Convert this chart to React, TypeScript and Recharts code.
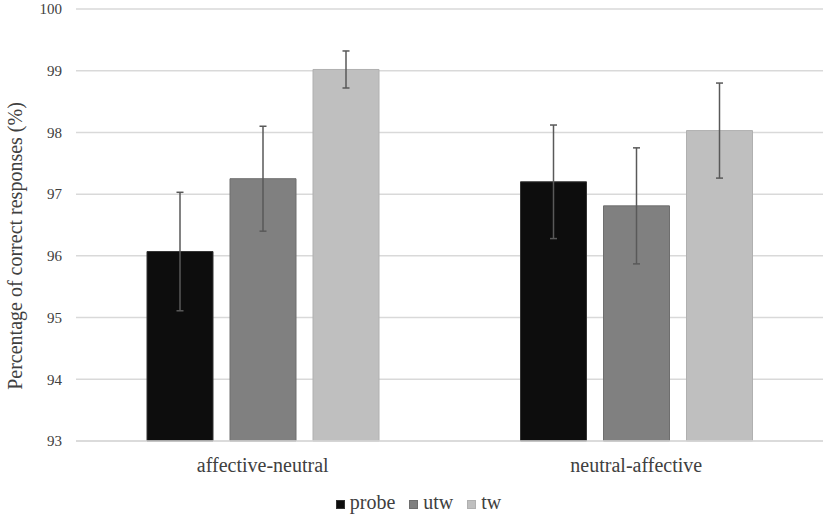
import React from "react";
import {
  BarChart, Bar, XAxis, YAxis, CartesianGrid, Legend, ErrorBar,
} from "recharts";

const categories = ["affective-neutral", "neutral-affective"];
const probeValues = [96.07, 97.2];
const probeErrors = [0.96, 0.92];
const utwValues = [97.25, 96.81];
const utwErrors = [0.85, 0.94];
const twValues = [99.02, 98.03];
const twErrors = [0.3, 0.77];
const yTicks = [93, 94, 95, 96, 97, 98, 99, 100];

const SERIES = [
  { key: "probe", err: "probeErr", fill: "#0d0d0d", stroke: "#333333" },
  { key: "utw", err: "utwErr", fill: "#808080", stroke: "#6e6e6e" },
  { key: "tw", err: "twErr", fill: "#bfbfbf", stroke: "#b0b0b0" },
];

const data = categories.map((name, i) => ({
  name,
  probe: probeValues[i],
  probeErr: probeErrors[i],
  utw: utwValues[i],
  utwErr: utwErrors[i],
  tw: twValues[i],
  twErr: twErrors[i],
}));

const FONT = "'Liberation Serif', 'Times New Roman', serif";
const TEXT = "#404040";

// rotated y-axis title, sits a little below the plot's middle like the original
function YLabel({ viewBox }: any) {
  const x = viewBox.x + 21.5;
  const y = viewBox.y + viewBox.height / 2 + 21;
  return (
    <text
      x={x}
      y={y}
      transform={`rotate(-90 ${x} ${y})`}
      textAnchor="middle"
      fill={TEXT}
      style={{ fontFamily: FONT, fontSize: 20 }}
    >
      Percentage of correct responses (%)
    </text>
  );
}

function LegendBox() {
  return (
    <div style={{ display: "flex", justifyContent: "center", alignItems: "center", fontFamily: FONT, fontSize: 20, color: TEXT, paddingTop: 1, marginLeft: 14 }}>
      {SERIES.map((s, i) => (
        <div key={s.key} style={{ display: "flex", alignItems: "center", marginRight: i < SERIES.length - 1 ? 14 : 0 }}>
          <span style={{ display: "inline-block", boxSizing: "border-box", width: 9, height: 9, background: s.fill, border: `1px solid ${s.stroke}`, marginRight: 5, marginTop: 3 }} />
          <span>{s.key}</span>
        </div>
      ))}
    </div>
  );
}

export default function App() {
  return (
    <div style={{ position: "absolute", left: 0, top: 0, width: 829, height: 520, background: "#fff" }}>
      <BarChart
        width={829}
        height={520}
        data={data}
        margin={{ top: 9, right: 6, left: 0, bottom: 0 }}
        barSize={66}
        barGap={17}
      >
        <CartesianGrid vertical={false} stroke="#d9d9d9" strokeWidth={1.5} />
        <XAxis
          dataKey="name"
          height={49}
          axisLine={{ stroke: "#d9d9d9", strokeWidth: 1.5 }}
          tickLine={false}
          tickMargin={11}
          tick={{ fill: TEXT, fontFamily: FONT, fontSize: 20 }}
        />
        <YAxis
          domain={[93, 100]}
          ticks={yTicks}
          width={76}
          axisLine={false}
          tickLine={false}
          tickMargin={8}
          tick={{ fill: TEXT, fontFamily: FONT, fontSize: 15 }}
          label={<YLabel />}
        />
        <Legend verticalAlign="bottom" height={30} content={<LegendBox />} />
        {SERIES.map(s => (
          <Bar key={s.key} dataKey={s.key} fill={s.fill} stroke={s.stroke} strokeWidth={1} isAnimationActive={false}>
            <ErrorBar dataKey={s.err} width={3.5} stroke="#595959" strokeWidth={1.5} isAnimationActive={false} />
          </Bar>
        ))}
      </BarChart>
    </div>
  );
}
